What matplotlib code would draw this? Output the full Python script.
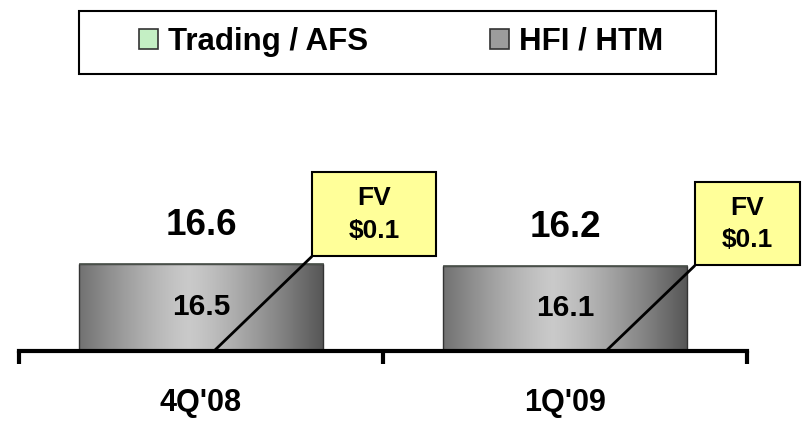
import numpy as np
import matplotlib
matplotlib.use("Agg")
import matplotlib.pyplot as plt
from matplotlib.patches import Patch, Rectangle

plt.rcParams['font.family'] = ['Liberation Sans', 'DejaVu Sans']
plt.rcParams['font.weight'] = 'bold'

quarters = ["4Q'08", "1Q'09"]
hfi_htm = [16.5, 16.1]
trading_afs = [0.1, 0.1]
totals = [16.6, 16.2]
fv_labels = ["FV\n$0.1", "FV\n$0.1"]

# layout of the FV call-out boxes, in pixels relative to bar centre / bar top
fv_box_dx = [111, 130]
fv_box_dy = [7, 0]
fv_box_w = [124, 105]
fv_box_h = [84, 83]
fv_line_dx = [13, 41]

W, H = 803, 422
fig = plt.figure(figsize=(W / 100, H / 100), dpi=100)
ax = fig.add_axes([19 / W, 71 / H, 728 / W, 251 / H])
px_per_y = 5.28
px_per_x = 728 / 2.0
ax.set_xlim(-0.5, 1.5)
ax.set_ylim(0, 251 / px_per_y)

x = np.arange(len(quarters))
bar_w = 0.67


def gradient(lo, hi, n=256, peak=-0.1):
    t = np.linspace(-1, 1, n) - peak
    t = np.abs(t) / np.abs(t).max()
    return (hi - (hi - lo) * t ** 1.3)[None, :]


bars_hfi = ax.bar(x, hfi_htm, bar_w, color='none', edgecolor='#333333', linewidth=1.0, zorder=3)
bars_afs = ax.bar(x, trading_afs, bar_w, bottom=hfi_htm, color='#c8f0c8',
                  edgecolor='#333333', linewidth=0.5, zorder=3)

for b in bars_hfi:
    g = gradient(0.34, 0.79)
    im = ax.imshow(np.repeat(g[..., None], 3, axis=2), aspect='auto',
                   extent=[b.get_x(), b.get_x() + b.get_width(), 0, b.get_height()],
                   zorder=2, interpolation='bilinear')
    im.set_clip_path(b)

for i, xi in enumerate(x):
    ax.annotate(f"{hfi_htm[i]:.1f}", (xi, hfi_htm[i] / 2), ha='center', va='center',
                fontsize=21.5, fontweight='bold', zorder=5)
    ax.annotate(f"{totals[i]:.1f}", (xi, totals[i]), xytext=(0, 27), textcoords='offset points',
                ha='center', va='center', fontsize=26.5, fontweight='bold', zorder=5)

    # FV call-out
    bx = xi + fv_box_dx[i] / px_per_x
    by = totals[i] + fv_box_dy[i] / px_per_y
    bw = fv_box_w[i] / px_per_x
    bh = fv_box_h[i] / px_per_y
    rect = Rectangle((bx, by), bw, bh, facecolor='#ffff99',
                     edgecolor='black', linewidth=1.5, clip_on=False, zorder=6)
    ax.add_patch(rect)
    ax.text(bx + bw / 2, by + bh / 2, fv_labels[i],
            ha='center', va='center', fontsize=19, fontweight='bold', linespacing=1.45,
            zorder=7, clip_on=False)
    ax.plot([xi + fv_line_dx[i] / px_per_x, bx], [0, by], color='black', linewidth=2,
            zorder=4, clip_on=False, solid_capstyle='butt')

for s in ['top', 'left', 'right']:
    ax.spines[s].set_visible(False)
ax.spines['bottom'].set_linewidth(3)
ax.spines['bottom'].set_zorder(8)
ax.set_yticks([])
ax.set_xticks([-0.5, 0.5, 1.5])
ax.set_xticklabels([])
ax.tick_params(axis='x', which='major', length=9, width=3, direction='out')
ax.set_xticks(x, minor=True)
ax.set_xticklabels(quarters, minor=True, fontsize=22, fontweight='bold')
ax.tick_params(axis='x', which='minor', length=0, pad=27)

# legend: entries without frame, frame drawn separately
handles = [Patch(facecolor='#c4efc4', edgecolor='#333333', linewidth=1.2),
           Patch(facecolor='#9c9c9c', edgecolor='#333333', linewidth=1.2)]
leg = fig.legend(handles, ['Trading / AFS', 'HFI / HTM'], loc='center',
                 bbox_to_anchor=(401 / W, 1 - 42 / H), ncol=2,
                 prop={'size': 22.5, 'weight': 'bold'}, frameon=False,
                 handlelength=0.6, handleheight=0.65, handletextpad=0.33,
                 columnspacing=3.9, borderpad=0, borderaxespad=0)
fig.patches.append(Rectangle((79 / W, 1 - 74 / H), 637 / W, 63 / H, transform=fig.transFigure,
                             facecolor='none', edgecolor='black', linewidth=1.5))

fig.savefig("out.png", dpi=100)
